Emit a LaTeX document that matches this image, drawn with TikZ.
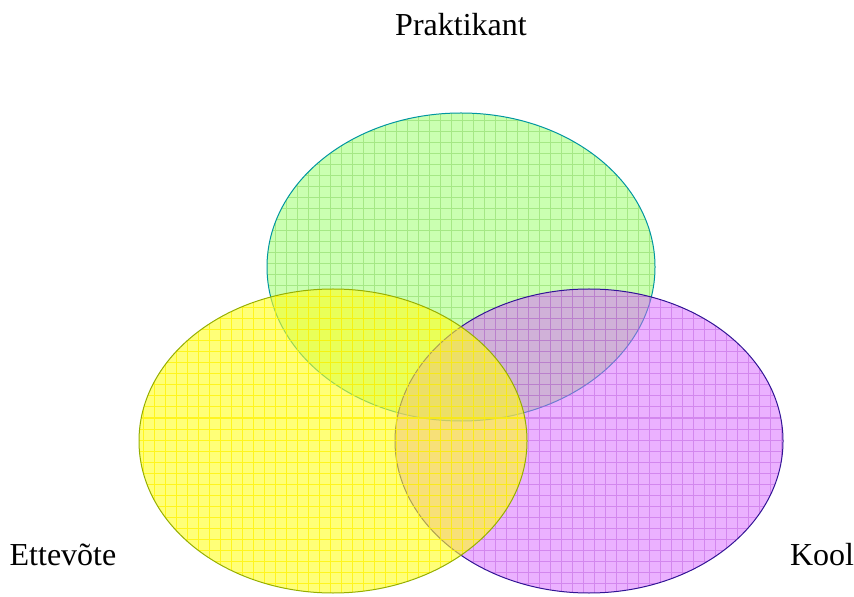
\documentclass[tikz,border=0pt]{standalone}
\usepackage{fontspec}
\setmainfont{Liberation Serif}
\usetikzlibrary{positioning}
\definecolor{praktgreen}{RGB}{150,255,100}
\definecolor{praktline}{RGB}{0,150,160}
\definecolor{koolviolet}{RGB}{215,100,255}
\definecolor{koolline}{RGB}{50,20,150}
\definecolor{ettyellow}{RGB}{255,255,30}
\definecolor{ettline}{RGB}{150,175,0}
\tikzset{
    setfill/.style={fill=#1, fill opacity=0.5},
    setgrid/.style={draw=#1, opacity=0.45, line width=0.5pt},
    setborder/.style={draw=#1, line width=0.5pt},
    setlabel/.style={font=\fontsize{16}{19}\selectfont, inner sep=0pt}
}
\begin{document}
\begin{tikzpicture}[x=0.5pt,y=-0.5pt]
  \useasboundingbox (0,0) rectangle (854,597);
  % Praktikant
  \fill[setfill=praktgreen] (461,267) ellipse [x radius=194, y radius=154];
  \begin{scope}
    \clip (461,267) ellipse [x radius=194, y radius=154];
    \draw[setgrid=praktgreen!80!black, step=5.5pt] (250,100) grid (680,440);
  \end{scope}
  \draw[setborder=praktline] (461,267) ellipse [x radius=194, y radius=154];
  % Kool
  \fill[setfill=koolviolet] (589,441) ellipse [x radius=194, y radius=152];
  \begin{scope}
    \clip (589,441) ellipse [x radius=194, y radius=152];
    \draw[setgrid=koolviolet!85!black, step=5.5pt] (380,280) grid (800,600);
  \end{scope}
  \draw[setborder=koolline] (589,441) ellipse [x radius=194, y radius=152];
  % Ettevote
  \fill[setfill=ettyellow, fill opacity=0.6] (333,441) ellipse [x radius=194, y radius=152];
  \begin{scope}
    \clip (333,441) ellipse [x radius=194, y radius=152];
    \draw[setgrid=yellow, opacity=0.75, step=5.5pt] (130,280) grid (540,600);
  \end{scope}
  \draw[setborder=ettline] (333,441) ellipse [x radius=194, y radius=152];
  % labels
  \node[setlabel] (prakt) at (461,25) {Praktikant};
  \node[setlabel] (ette) at (63,555) {Ettevõte};
  \node[setlabel] (kool) at (822,555) {Kool};
\end{tikzpicture}
\end{document}
